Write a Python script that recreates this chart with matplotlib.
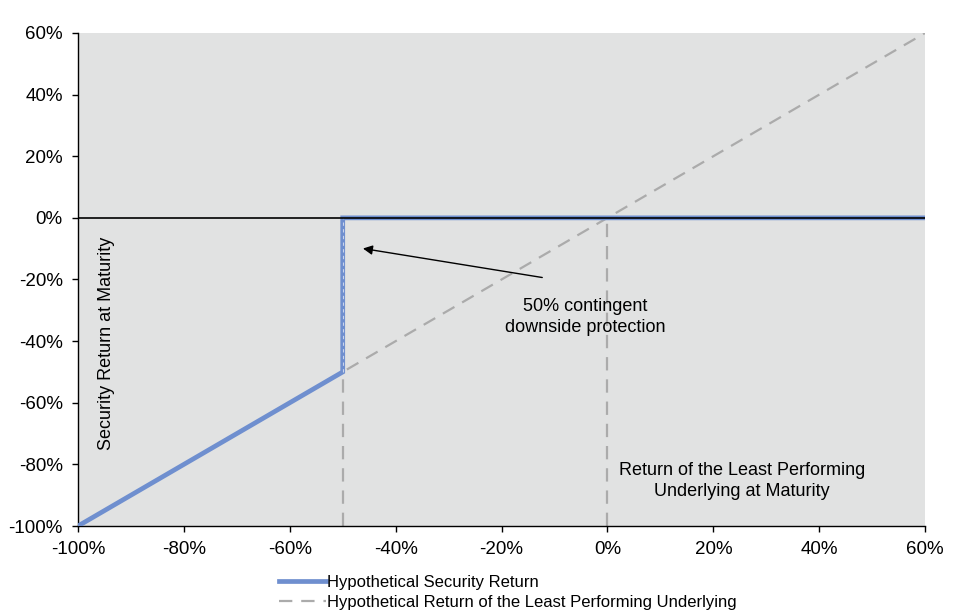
import matplotlib.pyplot as plt
from matplotlib.ticker import FuncFormatter

plt.rcParams["font.family"] = ["Liberation Sans", "DejaVu Sans"]

# payoff data (percent)
security_x = [-100, -50, -50, 60]
security_y = [-100, -50, 0, 0]
underlying_x = [-100, 60]
underlying_y = [-100, 60]
ticks = [-100, -80, -60, -40, -20, 0, 20, 40, 60]

fig = plt.figure(figsize=(9.76, 6.14), dpi=100)
ax = fig.add_axes([0.0799, 0.1433, 0.868, 0.803])
ax.set_facecolor("#e1e2e2")

ax.plot(underlying_x, underlying_y, color="#ababab", lw=1.6, dashes=(6, 4),
        label="Hypothetical Return of the Least Performing Underlying", zorder=2)
ax.plot([-50, -50], [-100, -50], color="#ababab", lw=1.6, dashes=(6, 4), zorder=2)
ax.plot([0, 0], [-100, 0], color="#ababab", lw=1.6, dashes=(6, 4), zorder=2)
ax.plot(security_x, security_y, color="#6f8fcf", lw=3.4, solid_joinstyle="miter",
        label="Hypothetical Security Return", zorder=3)
ax.plot([-50, -50], [-50, 0], color="#c9d4ec", lw=0.8, dashes=(3, 3), zorder=4)
ax.plot([-100, 60], [0, 0], color="black", lw=1.2, zorder=5)

ax.set_xlim(-100, 60)
ax.set_ylim(-100, 60)
ax.set_xticks(ticks)
ax.set_yticks(ticks)
pct = FuncFormatter(lambda v, _: f"{v:.0f}%")
ax.xaxis.set_major_formatter(pct)
ax.yaxis.set_major_formatter(pct)
ax.tick_params(labelsize=13.5, direction="out", length=4, width=1, pad=7)
for side in ("top", "right"):
    ax.spines[side].set_visible(False)
for side in ("left", "bottom"):
    ax.spines[side].set_linewidth(1)

ax.annotate("", xy=(-46.7, -9.8), xytext=(-11.8, -19.5),
            arrowprops=dict(arrowstyle="-|>", color="black", lw=1,
                            mutation_scale=14))
ax.text(-4.2, -32.3, "50% contingent\ndownside protection", ha="center",
        va="center", fontsize=13, linespacing=1.3)
ax.text(-94.7, -40.6, "Security Return at Maturity", rotation=90, ha="center",
        va="center", fontsize=13)
ax.text(25.4, -85.5, "Return of the Least Performing\nUnderlying at Maturity",
        ha="center", va="center", fontsize=13, linespacing=1.3)

handles, labels = ax.get_legend_handles_labels()
fig.legend(handles[::-1], labels[::-1], loc="upper left",
           bbox_to_anchor=(0.286, 1 - 575 / 614), frameon=False, fontsize=12,
           handlelength=2.8, handletextpad=0.1, labelspacing=0.32,
           borderpad=0, borderaxespad=0)

fig.savefig("out.png", dpi=100)
